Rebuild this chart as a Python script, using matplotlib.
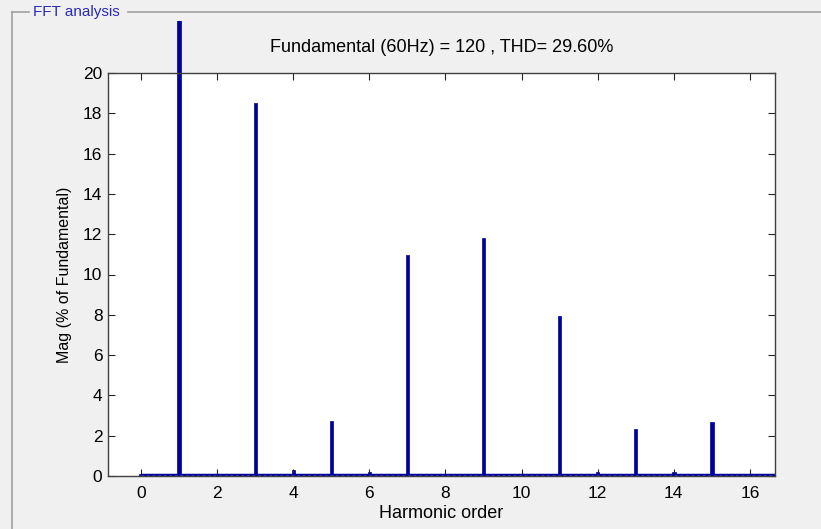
import matplotlib
matplotlib.use("Agg")
import matplotlib.pyplot as plt
from matplotlib.patches import Rectangle
from matplotlib.lines import Line2D

# harmonic spectrum (% of fundamental)
orders = [0, 1, 2, 3, 4, 5, 6, 7, 8, 9, 10, 11, 12, 13, 14, 15, 16]
mags = [0.1, 100.0, 0.1, 18.5, 0.3, 2.75, 0.2, 10.95, 0.1, 11.8, 0.1, 7.95, 0.2, 2.35, 0.2, 2.7, 0.1]
xticks = [0, 2, 4, 6, 8, 10, 12, 14, 16]
yticks = [0, 2, 4, 6, 8, 10, 12, 14, 16, 18, 20]
titulo = "Fundamental (60Hz) = 120 , THD= 29.60%"
xlim = (-0.87, 16.66)

plt.rcParams["font.family"] = ["Liberation Sans", "DejaVu Sans"]

fig = plt.figure(figsize=(8.21, 5.29), dpi=100, facecolor="#f0f0f0")
ax = fig.add_axes([108/821, 1-476/529, 667/821, 403/529])
ax.set_facecolor("white")

barras = ax.bar(orders, mags, width=0.09, color="#00009c", edgecolor="#00009c", linewidth=0.5)
# la fundamental se sale del eje y se corta en el borde del panel
for b in barras:
    b.set_clip_path(Rectangle((0, 0), 1, 1 - 21/529, transform=fig.transFigure))

# linea base del espectro (interarmonicos casi nulos)
ax.hlines(0.06, orders[0], xlim[1], color="#00009c", linewidth=2.5, zorder=3)
ax.hlines(0.0, orders[0], xlim[1], color="white", linewidth=1, zorder=3, linestyle=(0, (2, 2)))

ax.set_xlim(*xlim)
ax.set_ylim(0, 20)
ax.set_xticks(xticks)
ax.set_yticks(yticks)
ax.tick_params(direction="in", top=True, right=True, labelsize=12.5, length=5, color="#262626")
ax.tick_params(axis="x", pad=7)
ax.tick_params(axis="y", pad=4)
for s in ax.spines.values():
    s.set_color("#404040")
    s.set_linewidth(1.0)
    s.set_zorder(4)

ax.set_xlabel("Harmonic order", fontsize=13, labelpad=3)
ax.set_ylabel("Mag (% of Fundamental)", fontsize=11.5, labelpad=8)
ax.set_title(titulo, fontsize=13, pad=15)

# marco del panel
gris = "#a0a0a0"
fig.add_artist(Line2D([12/821, 12/821], [0, 1-12/529], color=gris, lw=1.2, transform=fig.transFigure))
fig.add_artist(Line2D([12/821, 29/821], [1-12/529, 1-12/529], color=gris, lw=1.2, transform=fig.transFigure))
fig.add_artist(Line2D([128/821, 1], [1-12/529, 1-12/529], color=gris, lw=1.2, transform=fig.transFigure))
fig.text(33/821, 1-12/529, "FFT analysis", color="#2a2ab8", fontsize=11, va="center", ha="left")

fig.savefig("out.png", dpi=100, facecolor=fig.get_facecolor())
